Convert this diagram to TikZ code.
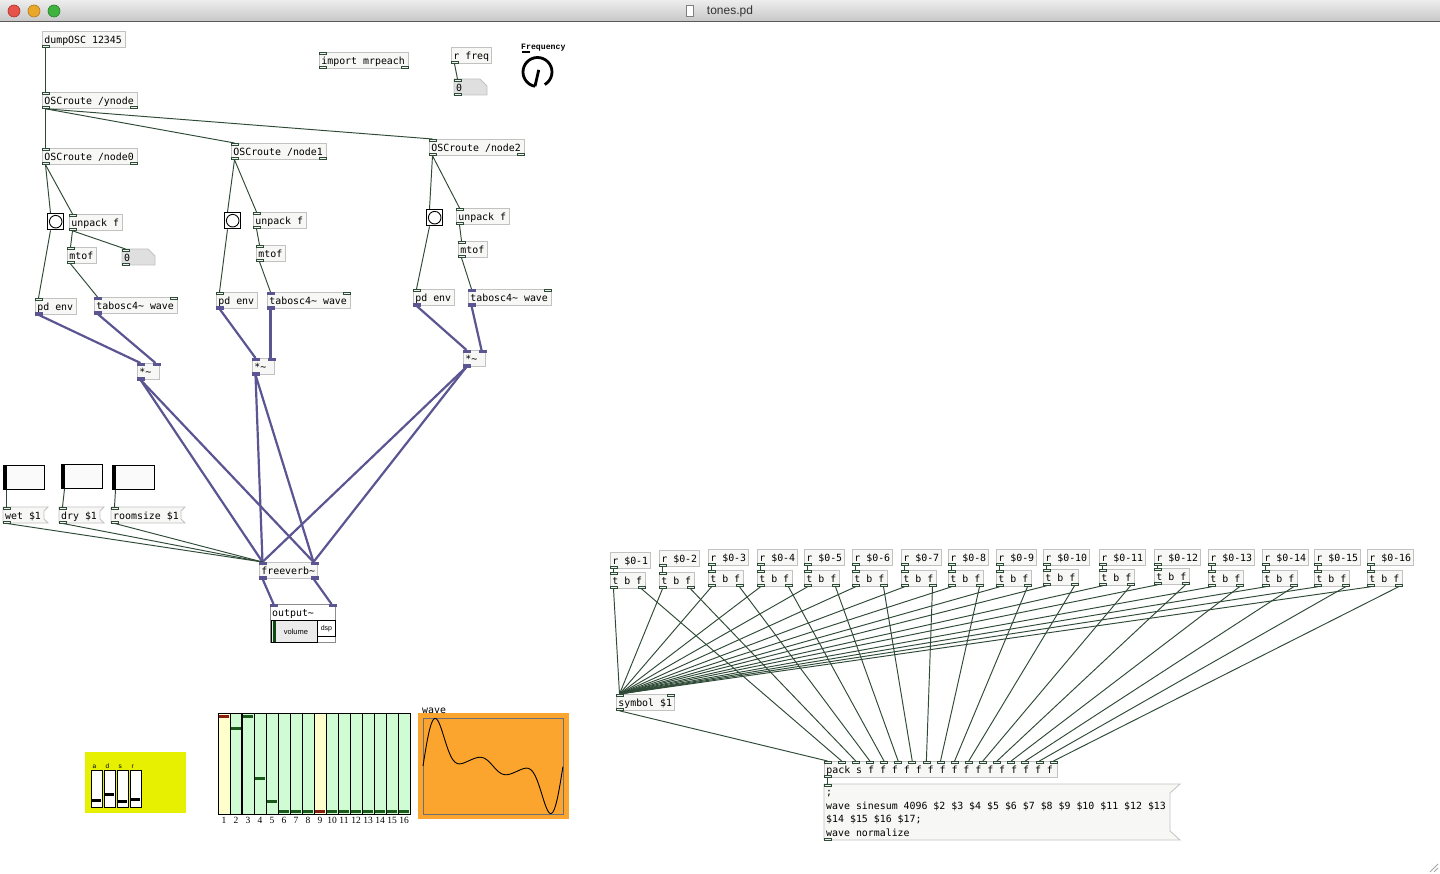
\documentclass[tikz,border=0pt]{standalone}
\usepackage{fontspec}
\setmainfont{DejaVu Sans}
\newfontfamily\pdmono{DejaVu Sans Mono}[WordSpace={1,0,0}]
\newfontfamily\frqfont{Liberation Mono}
\newfontfamily\lblserif{Liberation Serif}
\newfontfamily\uisans{Liberation Sans}
\usetikzlibrary{calc}

\definecolor{tbtop}{HTML}{EDEDED}
\definecolor{tbbot}{HTML}{C6C6C6}
\definecolor{tbline}{HTML}{5A5A5A}
\definecolor{tlred}{HTML}{E5534B}
\definecolor{tlredd}{HTML}{B0302A}
\definecolor{tlyel}{HTML}{E9A82A}
\definecolor{tlyeld}{HTML}{B27A12}
\definecolor{tlgrn}{HTML}{3EB33F}
\definecolor{tlgrnd}{HTML}{23802A}
\definecolor{titlec}{HTML}{333333}
\definecolor{boxc}{HTML}{C2C2C2}
\definecolor{boxf}{HTML}{F7F7F5}
\definecolor{wirec}{HTML}{2F4A36}
\definecolor{sigc}{HTML}{5B5592}
\definecolor{ciof}{HTML}{EEF2EE}
\definecolor{numfc}{HTML}{DFDFDF}
\definecolor{bargreen}{HTML}{CFFCD3}
\definecolor{baryel}{HTML}{FFFFCC}
\definecolor{markgrn}{HTML}{1C5A1C}
\definecolor{markred}{HTML}{8A1F11}
\definecolor{adsry}{HTML}{E6F000}
\definecolor{wavebg}{HTML}{FCA52E}
\definecolor{wavefr}{HTML}{6E6E78}
\definecolor{outc}{HTML}{8C8C8C}
\definecolor{volf}{HTML}{EBEBEB}
\definecolor{volbar}{HTML}{0B4A12}

\newcommand{\pdfnt}{\pdmono\fontsize{9.9}{11}\selectfont}

\tikzset{
  pdo/.style={draw=boxc, fill=boxf, line width=0.8pt, inner xsep=2pt, inner ysep=0pt,
    minimum height=16pt, anchor=north west, font=\pdfnt, text=black},
  pdt/.style={draw=none, fill=none, inner xsep=2pt, inner ysep=0pt,
    minimum height=16pt, anchor=north west, font=\pdfnt, text=black},
  msgline/.style={anchor=base west, inner sep=0pt, font=\pdfnt, text=black},
  cw/.style={draw=wirec, line width=0.95pt},
  sw/.style={draw=sigc, line width=2.2pt},
  ci/.style={draw=wirec, fill=ciof, line width=0.7pt},
  si/.style={draw=sigc, fill=sigc, line width=0.3pt},
  bngbox/.style={draw=black, line width=1.4pt, fill=white, minimum size=16pt, inner sep=0pt, anchor=north west},
  hslbox/.style={draw=black, line width=1pt, fill=white!98!black, minimum height=24pt, inner sep=0pt, anchor=north west},
}

% object box
\newcommand{\pdobj}[5]{\node[pdo, minimum width=#4pt] (#1) at (#2,#3)
  {\makebox[\dimexpr#4pt-4pt\relax][l]{\rule[-3.5pt]{0pt}{16pt}#5}};}
% message box
\newcommand{\pdmsg}[5]{\filldraw[draw=boxc, fill=boxf, line width=0.8pt] (#2,#3) -- ++({#4+4},0) -- ++(-4,4) -- ++(0,8) -- ++(4,4) -- ++({-#4-4},0) -- cycle;
  \node[pdt, minimum width=#4pt] (#1) at (#2,#3)
  {\makebox[\dimexpr#4pt-4pt\relax][l]{\rule[-3.5pt]{0pt}{16pt}#5}};}
% number box
\newcommand{\pdnum}[5]{\filldraw[draw=boxc, fill=numfc, line width=0.8pt] (#2,#3) -- ++({#4-7},0) -- ++(7,7) -- ++(0,9) -- ++({-#4},0) -- cycle;
  \node[pdt, minimum width=#4pt] (#1) at (#2,#3)
  {\makebox[\dimexpr#4pt-4pt\relax][l]{\rule[-3.5pt]{0pt}{16pt}#5}};}
% iolets
\newcommand{\ioT}[3]{\draw[#3] ($(#1.north west)+(#2,0)$) rectangle ++(7,2.5);}
\newcommand{\ioB}[3]{\draw[#3] ($(#1.south west)+(#2,-2.5)$) rectangle ++(7,2.5);}
\newcommand{\ioTR}[2]{\draw[#2] ($(#1.north east)+(-7,0)$) rectangle ++(7,2.5);}
\newcommand{\ioBR}[2]{\draw[#2] ($(#1.south east)+(-7,-2.5)$) rectangle ++(7,2.5);}
% wires
\newcommand{\wC}[4]{\draw[cw] ($(#1.south west)+(#2+3.5,0)$) -- ($(#3.north west)+(#4+3.5,0)$);}
\newcommand{\wS}[4]{\draw[sw] ($(#1.south west)+(#2+3.5,0)$) -- ($(#3.north west)+(#4+3.5,0)$);}

\begin{document}
\begin{tikzpicture}[x=1pt,y=-1pt]
\useasboundingbox (0,0) rectangle (1440,874);
\fill[white] (0,0) rectangle (1440,874);

% ---------- title bar ----------
\shade[top color=tbtop, bottom color=tbbot] (0,0) rectangle (1440,22);
\draw[tbline, line width=1pt] (0,22) -- (1440,22);
\filldraw[fill=tlred, draw=tlredd, line width=0.6pt] (14,11) circle (6);
\filldraw[fill=tlyel, draw=tlyeld, line width=0.6pt] (34,11) circle (6);
\filldraw[fill=tlgrn, draw=tlgrnd, line width=0.6pt] (54,11) circle (6);
\draw[gray, fill=white, line width=0.5pt] (686,5) rectangle (693,16);
\node[font=\uisans\fontsize{12}{14}\selectfont, text=titlec, inner sep=0pt] (title) at (730,11.5) {tones.pd};

% ---------- top objects ----------
\pdobj{dump}{42}{31}{83}{dumpOSC 12345}
\pdobj{ynode}{42}{92}{95}{OSCroute /ynode}
\pdobj{imp}{319}{52}{89}{import mrpeach}
\pdobj{rfreq}{451}{47}{40}{r freq}
\pdnum{numf}{454}{79}{33}{0}

% knob
\node[font=\frqfont\bfseries\fontsize{8.2}{9}\selectfont, anchor=base west, inner sep=0pt] (frqlbl) at (521,49.5) {Frequency};
\fill[black] (522,51) rectangle (530,53);
\coordinate (knobc) at (537.5,72);
\draw[line width=2.8pt] ($(knobc)+(100:14.5)$) arc[start angle=100, end angle=420, radius=14.5];
\draw[line width=2.8pt] ($(knobc)+(-60:2.5)$) -- ($(knobc)+(100:14.5)$);

\pdobj{node0}{42}{148}{95}{OSCroute /node0}
\pdobj{node1}{231}{143}{95}{OSCroute /node1}
\pdobj{node2}{429}{139}{95}{OSCroute /node2}

\node[bngbox] (bng0) at (47,213) {};
\node[bngbox] (bng1) at (224,212) {};
\node[bngbox] (bng2) at (426,209) {};
\draw[black, line width=0.9pt] (bng0.center) circle (6.3);
\draw[black, line width=0.9pt] (bng1.center) circle (6.3);
\draw[black, line width=0.9pt] (bng2.center) circle (6.3);

\pdobj{unp0}{69}{214}{53}{unpack f}
\pdobj{unp1}{253}{212}{53}{unpack f}
\pdobj{unp2}{456}{208}{53}{unpack f}
\pdobj{mtof0}{67}{247}{29}{mtof}
\pdobj{mtof1}{256}{245}{29}{mtof}
\pdobj{mtof2}{458}{241}{29}{mtof}
\pdnum{num0}{122}{249}{33}{0}
\pdobj{env0}{35}{298}{41}{pd env}
\pdobj{env1}{216}{292}{41}{pd env}
\pdobj{env2}{413}{289}{41}{pd env}
\pdobj{tab0}{94}{297}{83}{tabosc4\textasciitilde{} wave}
\pdobj{tab1}{267}{292}{83}{tabosc4\textasciitilde{} wave}
\pdobj{tab2}{468}{289}{83}{tabosc4\textasciitilde{} wave}
\pdobj{mul0}{137}{363}{22}{*\textasciitilde}
\pdobj{mul1}{252}{358}{22}{*\textasciitilde}
\pdobj{mul2}{463}{350}{22}{*\textasciitilde}

% sliders + messages
\node[hslbox, minimum width=41pt] (sl1) at (3,465) {};
\node[hslbox, minimum width=41pt] (sl2) at (61,464) {};
\node[hslbox, minimum width=42pt] (sl3) at (112,465) {};
\draw[black, line width=3pt] ($(sl1.north west)+(2.5,1)$) -- ($(sl1.south west)+(2.5,-1)$);
\draw[black, line width=3pt] ($(sl2.north west)+(2.5,1)$) -- ($(sl2.south west)+(2.5,-1)$);
\draw[black, line width=3pt] ($(sl3.north west)+(2.5,1)$) -- ($(sl3.south west)+(2.5,-1)$);
\pdmsg{wet}{3}{507}{41}{wet \$1}
\pdmsg{dry}{59}{507}{41}{dry \$1}
\pdmsg{room}{111}{507}{70}{roomsize \$1}

\pdobj{fv}{259}{562}{58}{freeverb\textasciitilde}

% output~
\node[draw=outc, fill=white, line width=0.8pt, minimum width=65pt, minimum height=38pt, inner sep=0pt, anchor=north west] (outbox) at (270,604) {};
\node[pdt, minimum width=65pt] (outtxt) at (270,604) {\makebox[61pt][l]{\rule[-3.5pt]{0pt}{16pt}output\textasciitilde}};
\node[draw=black, fill=volf, line width=0.8pt, minimum width=46pt, minimum height=22pt, inner sep=0pt, anchor=north west,
  font=\uisans\fontsize{7.5}{9}\selectfont] (vol) at (271,620) {\hspace*{3pt}volume};
\fill[volbar] (272.5,621) rectangle (275.5,641.5);
\node[draw=black, fill=white, line width=0.8pt, minimum width=18pt, minimum height=16pt, inner sep=0pt, anchor=north west,
  font=\uisans\fontsize{7}{8}\selectfont] (dsp) at (317,620) {dsp};

% ---------- ADSR ----------
\fill[adsry] (85,752) rectangle (186,813);
\foreach \i/\xx/\kv/\lab in {1/91/800/a, 2/104/794/d, 3/117/801/s, 4/130/799/r} {
  \node[draw=black, line width=0.8pt, fill=white, minimum width=11pt, minimum height=37pt, inner sep=0pt, anchor=north west] (adsr\i) at (\xx,770) {};
  \draw[black, line width=3pt] (\xx+1,\kv) -- (\xx+10,\kv);
  \node[font=\uisans\fontsize{6.5}{7}\selectfont, anchor=base west, inner sep=0pt] (adsrl\i) at (\xx+1.5,768) {\lab};
}

% ---------- array (bar graph) ----------
\fill[bargreen] (218,713) rectangle (410,814);
\fill[baryel] (218,713) rectangle (230,814);
\fill[baryel] (314,713) rectangle (326,814);
\foreach \i/\v/\c in {1/716/markred, 2/728/markgrn, 3/716/markgrn, 4/778/markgrn, 5/801/markgrn,
  6/811/markgrn, 7/811/markgrn, 8/811/markgrn, 9/811/markred, 10/811/markgrn, 11/811/markgrn,
  12/811/markgrn, 13/811/markgrn, 14/811/markgrn, 15/811/markgrn, 16/811/markgrn} {
  \draw[\c, line width=3pt] ({218+12*(\i-1)+1},\v) -- ({218+12*\i-1},\v);
}
\foreach \i in {1,...,15} { \draw[black, line width=0.8pt] ({218+12*\i},713) -- ({218+12*\i},814); }
\draw[black, line width=1.8pt] (242,713) -- (242,814);
\draw[black, line width=1pt] (218,713) rectangle (410,814);
\foreach \i in {1,...,16} {
  \node[font=\lblserif\fontsize{9.5}{10}\selectfont, inner sep=0pt, anchor=base] (bl\i) at ({224+12*(\i-1)},823) {\i};
}

% ---------- wave graph ----------
\fill[wavebg] (418,713) rectangle (569,819);
\draw[wavefr, line width=1pt] (423,718) rectangle (563,814);
\node[font=\pdfnt, anchor=base west, inner sep=0pt] (wavelbl) at (422,713) {wave};
\draw[black, line width=0.9pt] plot[domain=0:1, samples=220, smooth]
  ({423+140*\x}, {766-47.5*(sin(360*\x)+0.88*sin(720*\x)+sin(1080*\x)+0.37*sin(1440*\x)+0.13*sin(1800*\x))/2.65});

% ---------- right side ----------
\foreach \k/\rx/\ry/\rw/\ty in {1/610/552/40/572, 2/659/550/40/572, 3/708/549/40/570, 4/757/549/40/570,
  5/804/549/40/570, 6/852/549/40/570, 7/901/549/40/570, 8/948/549/40/570, 9/996/549/40/570,
  10/1043/549/46/569, 11/1099/549/46/569, 12/1154/549/46/568, 13/1208/549/46/570,
  14/1262/549/46/570, 15/1314/549/46/570, 16/1367/549/46/570} {
  \pdobj{r\k}{\rx}{\ry}{\rw}{r \$0-\k}
  \pdobj{t\k}{\rx}{\ty}{35}{t b f}
}
\pdobj{sym}{616}{694}{58}{symbol \$1}
\pdobj{pack}{824}{761}{233}{pack s f f f f f f f f f f f f f f f f}
\filldraw[draw=boxc, fill=boxf, line width=0.8pt] (824,784) -- (1180,784) -- (1170,793) -- (1170,831) -- (1180,840) -- (824,840) -- cycle;
\node[draw=none, minimum width=346pt, minimum height=56pt, inner sep=0pt, anchor=north west] (msgbig) at (824,784) {};
\node[msgline] (msgl1) at (826,795.5) {;};
\node[msgline] (msgl2) at (826,809) {wave sinesum 4096 \$2 \$3 \$4 \$5 \$6 \$7 \$8 \$9 \$10 \$11 \$12 \$13};
\node[msgline] (msgl3) at (826,822.5) {\$14 \$15 \$16 \$17;};
\node[msgline] (msgl4) at (826,836) {wave normalize};

% resize grip
\draw[gray!70, line width=0.8pt] (1430,872) -- (1438,864);
\draw[gray!70, line width=0.8pt] (1434,872) -- (1438,868);

% ================= wires =================
\wC{dump}{0}{ynode}{0}
\wC{ynode}{0}{node0}{0}
\wC{ynode}{0}{node1}{0}
\wC{ynode}{0}{node2}{0}
\wC{rfreq}{0}{numf}{0}
\foreach \n in {0,1,2} {
  \wC{node\n}{0}{bng\n}{0}
  \wC{bng\n}{0}{env\n}{0}
  \wC{node\n}{0}{unp\n}{0}
  \wC{unp\n}{0}{mtof\n}{0}
  \wC{mtof\n}{0}{tab\n}{0}
  \wS{env\n}{0}{mul\n}{0}
  \wS{tab\n}{0}{mul\n}{15}
  \wS{mul\n}{0}{fv}{0}
  \wS{mul\n}{0}{fv}{51}
}
\wC{unp0}{0}{num0}{0}
\wC{sl1}{0}{wet}{0}
\wC{sl2}{0}{dry}{0}
\wC{sl3}{0}{room}{0}
\wC{wet}{0}{fv}{0}
\wC{dry}{0}{fv}{0}
\wC{room}{0}{fv}{0}
\wS{fv}{0}{outbox}{0}
\wS{fv}{51}{outbox}{58}
\foreach \k in {1,...,16} {
  \wC{r\k}{0}{t\k}{0}
  \wC{t\k}{0}{sym}{0}
  \wC{t\k}{28}{pack}{\k*14.125}
}
\wC{sym}{0}{pack}{0}
\wC{pack}{0}{msgbig}{0}

% ================= iolets =================
\ioB{dump}{0}{ci}
\ioT{ynode}{0}{ci} \ioB{ynode}{0}{ci} \ioBR{ynode}{ci}
\ioT{imp}{0}{ci} \ioB{imp}{0}{ci} \ioBR{imp}{ci}
\ioB{rfreq}{0}{ci}
\ioT{numf}{0}{ci} \ioB{numf}{0}{ci}
\ioT{num0}{0}{ci} \ioB{num0}{0}{ci}
\foreach \n in {0,1,2} {
  \ioT{node\n}{0}{ci} \ioB{node\n}{0}{ci} \ioBR{node\n}{ci}
  \ioT{unp\n}{0}{ci} \ioB{unp\n}{0}{ci}
  \ioT{mtof\n}{0}{ci} \ioB{mtof\n}{0}{ci}
  \ioT{env\n}{0}{ci} \ioB{env\n}{0}{si}
  \ioT{tab\n}{0}{si} \ioTR{tab\n}{ci} \ioB{tab\n}{0}{si}
  \ioT{mul\n}{0}{si} \ioTR{mul\n}{si} \ioB{mul\n}{0}{si}
}
\foreach \m in {wet,dry,room} { \ioT{\m}{0}{ci} \ioB{\m}{0}{ci} }
\ioT{fv}{0}{si} \ioTR{fv}{si} \ioB{fv}{0}{si} \ioBR{fv}{si}
\ioT{outbox}{0}{si} \ioTR{outbox}{si}
\foreach \k in {1,...,16} {
  \ioB{r\k}{0}{ci}
  \ioT{t\k}{0}{ci} \ioB{t\k}{0}{ci} \ioBR{t\k}{ci}
}
\ioT{sym}{0}{ci} \ioTR{sym}{ci} \ioB{sym}{0}{ci}
\foreach \k in {0,...,16} { \ioT{pack}{\k*14.125}{ci} }
\ioB{pack}{0}{ci}
\ioT{msgbig}{0}{ci} \ioB{msgbig}{0}{ci}
\end{tikzpicture}
\end{document}
